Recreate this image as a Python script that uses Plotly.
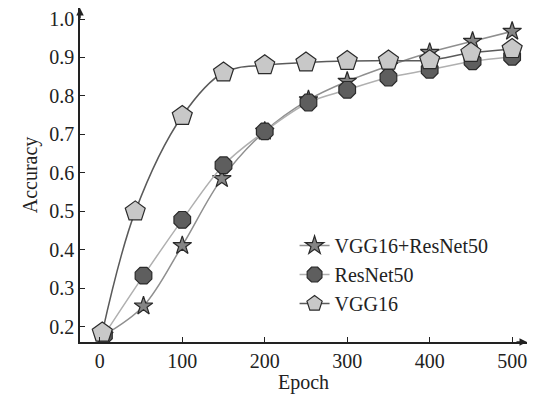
import plotly.graph_objects as go

epochs_vgg = [3, 43, 100, 150, 200, 250, 300, 350, 400, 450, 500]
acc_vgg = [0.185, 0.50, 0.748, 0.861, 0.880, 0.887, 0.891, 0.892, 0.893, 0.912, 0.922]

epochs_res = [5, 53, 100, 150, 200, 253, 300, 350, 400, 452, 500]
acc_res = [0.178, 0.333, 0.478, 0.620, 0.708, 0.783, 0.816, 0.848, 0.868, 0.890, 0.902]

epochs_comb = [5, 53, 100, 148, 200, 253, 300, 350, 400, 452, 500]
acc_comb = [0.178, 0.254, 0.411, 0.585, 0.708, 0.790, 0.838, 0.878, 0.913, 0.942, 0.968]

FONT = "Liberation Serif"
FS = 20

fig = go.Figure()
fig.add_trace(go.Scatter(
    x=epochs_comb, y=acc_comb, name="VGG16+ResNet50", mode="lines+markers",
    line=dict(color="#8f8f8f", width=1.5, shape="spline", smoothing=1.0),
    marker=dict(symbol="star", size=14, color="#858585", line=dict(color="#2a2a2a", width=1.2)),
))
fig.add_trace(go.Scatter(
    x=epochs_res, y=acc_res, name="ResNet50", mode="lines+markers",
    line=dict(color="#b0b0b0", width=1.5, shape="spline", smoothing=1.0),
    marker=dict(symbol="octagon", size=18, color="#5e5e5e", line=dict(color="#2a2a2a", width=1.2)),
))
fig.add_trace(go.Scatter(
    x=epochs_vgg, y=acc_vgg, name="VGG16", mode="lines+markers",
    line=dict(color="#5a5a5a", width=1.5, shape="spline", smoothing=1.0),
    marker=dict(symbol="pentagon", size=21, color="#c8c8c8", line=dict(color="#2a2a2a", width=1.2)),
))

fig.update_layout(
    width=533, height=394,
    margin=dict(l=80, r=6, t=8, b=52),
    paper_bgcolor="white", plot_bgcolor="white",
    font=dict(family=FONT, size=FS, color="#222"),
    showlegend=True,
    legend=dict(x=0.48, y=0.347, xanchor="left", yanchor="top",
                bgcolor="rgba(0,0,0,0)", font=dict(family=FONT, size=FS, color="#222"),
                tracegroupgap=0, itemwidth=30),
    xaxis=dict(range=[-24, 518], tickvals=[0, 100, 200, 300, 400, 500],
               showline=True, linecolor="#222", linewidth=1.5, showgrid=False, zeroline=False,
               ticks="inside", ticklen=5, tickcolor="#222",
               title=dict(text="Epoch", standoff=2, font=dict(family=FONT, size=FS))),
    yaxis=dict(range=[0.1605, 1.0286], tickvals=[0.2, 0.3, 0.4, 0.5, 0.6, 0.7, 0.8, 0.9, 1.0],
               tickformat=".1f",
               showline=True, linecolor="#222", linewidth=1.5, showgrid=False, zeroline=False,
               ticks="inside", ticklen=5, tickcolor="#222",
               title=dict(text="Accuracy", standoff=6, font=dict(family=FONT, size=FS))),
)

# axis arrowheads
fig.add_annotation(x=1, y=0, xref="paper", yref="paper", ax=-12, ay=0,
                   showarrow=True, arrowhead=2, arrowsize=1, arrowwidth=1.5, arrowcolor="#222", text="")
fig.add_annotation(x=0, y=1, xref="paper", yref="paper", ax=0, ay=12,
                   showarrow=True, arrowhead=2, arrowsize=1, arrowwidth=1.5, arrowcolor="#222", text="")

fig.write_html("out.html")
